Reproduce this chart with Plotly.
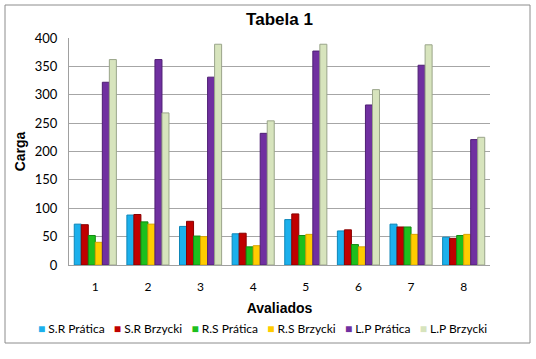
import plotly.graph_objects as go

categories = ["1", "2", "3", "4", "5", "6", "7", "8"]
series_names = ["S.R Prática", "S.R Brzycki", "R.S Prática", "R.S Brzycki", "L.P Prática", "L.P Brzycki"]
sr_pratica = [72, 88, 68, 55, 80, 60, 72, 49]
sr_brzycki = [71, 89, 77, 56, 90, 62, 67, 47]
rs_pratica = [52, 76, 51, 32, 52, 36, 67, 52]
rs_brzycki = [40, 72, 50, 34, 54, 32, 54, 54]
lp_pratica = [322, 362, 331, 232, 377, 282, 352, 221]
lp_brzycki = [362, 268, 389, 254, 389, 309, 388, 225]
y_ticks = [0, 50, 100, 150, 200, 250, 300, 350, 400]

values = [sr_pratica, sr_brzycki, rs_pratica, rs_brzycki, lp_pratica, lp_brzycki]
colors = ["#1CB0EC", "#C00000", "#1DBF1D", "#FFCC00", "#7030A0", "#D7E4BD"]
edges = ["#0E86B8", "#8A0000", "#128A12", "#D9A400", "#4E1F73", "#9AA58A"]

fig = go.Figure()
for name, vals, c, e in zip(series_names, values, colors, edges):
    fig.add_trace(go.Bar(
        x=categories, y=vals, name=name, showlegend=False,
        marker=dict(color=c, line=dict(color=e, width=1)),
    ))

# legend drawn as one line of real text with coloured squares
legend_text = "&nbsp;&nbsp;&nbsp;".join(
    f"<span style='color:{c}'>■</span> {n}" for n, c in zip(series_names, colors)
)

fig.update_layout(
    width=536, height=359,
    margin=dict(l=69, r=46, t=38, b=94, autoexpand=False),
    paper_bgcolor="white", plot_bgcolor="white",
    barmode="group", bargap=0.2, bargroupgap=0,
    title=dict(text="<b>Tabela 1</b>", x=0.5, xanchor="center", xref="paper",
               y=1 - 19 / 359, yanchor="middle",
               font=dict(family="Liberation Sans, Arial", size=17, color="black")),
    font=dict(family="Lato, Calibri, sans-serif", size=12, color="black"),
    xaxis=dict(
        type="category",
        title=dict(text="<b>Avaliados</b>", standoff=9,
                   font=dict(family="Liberation Sans, Arial", size=14, color="black")),
        showgrid=False, showline=True, linecolor="#A0A0A0", linewidth=1,
        ticks="", ticklabelstandoff=11,
        tickfont=dict(family="Lato, Calibri, sans-serif", size=12, color="black"),
    ),
    yaxis=dict(
        range=[0, 400], tickvals=y_ticks,
        title=dict(text="<b>Carga</b>", standoff=5,
                   font=dict(family="Liberation Sans, Arial", size=14, color="black")),
        showgrid=True, gridcolor="#A6A6A6", gridwidth=1,
        showline=True, linecolor="#A0A0A0", linewidth=1,
        zeroline=False, ticks="", ticklabelstandoff=8,
        tickfont=dict(family="Lato, Calibri, sans-serif", size=13, color="black"),
    ),
    annotations=[dict(
        text=legend_text, xref="paper", yref="paper",
        x=(262 - 69) / 421, y=(265 - 328) / 227, xanchor="center", yanchor="middle",
        showarrow=False, font=dict(family="Lato, Calibri, sans-serif", size=12, color="black"),
    )],
    shapes=[dict(type="rect", xref="paper", yref="paper",
                 x0=(5 - 69) / 421, x1=(530 - 69) / 421,
                 y0=(265 - 343) / 227, y1=(265 - 5) / 227,
                 line=dict(color="#8C8C8C", width=1), fillcolor="rgba(0,0,0,0)",
                 layer="below")],
)

fig.write_html("out.html", config={"displayModeBar": False},
               post_script="document.body.style.margin='0px';")
